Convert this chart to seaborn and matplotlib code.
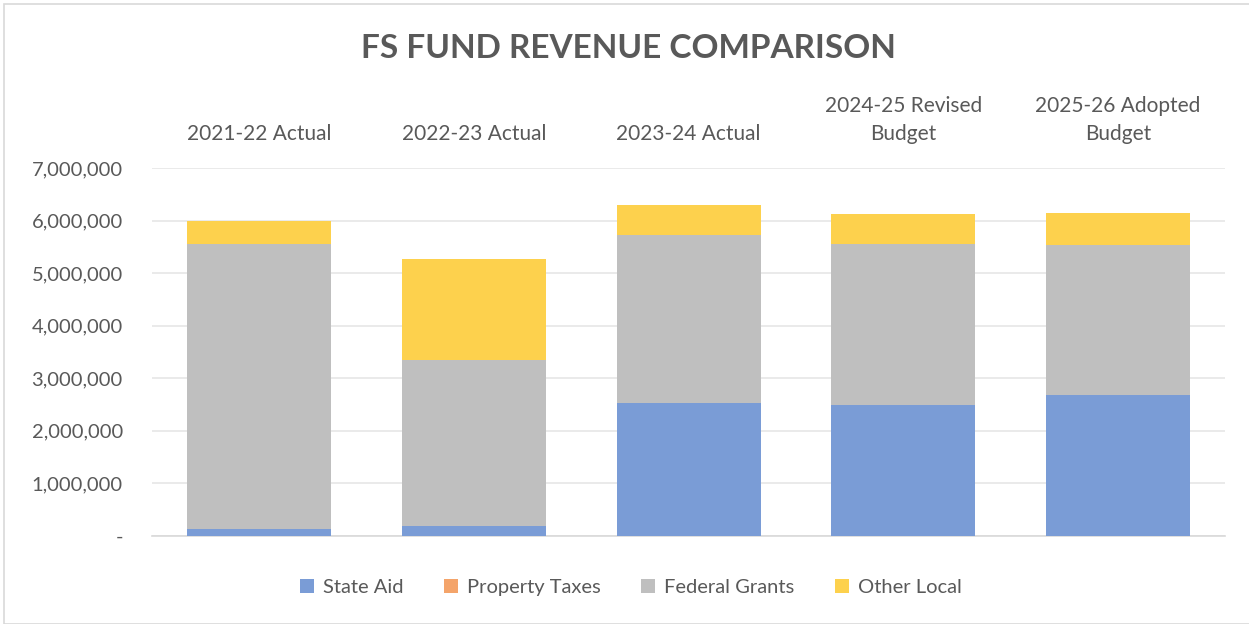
import pandas as pd
import matplotlib.pyplot as plt
import seaborn as sns
from matplotlib.patches import Patch, Rectangle
from matplotlib.ticker import FuncFormatter

# Chart values
years = ["2021-22 Actual", "2022-23 Actual", "2023-24 Actual",
         "2024-25 Revised\nBudget", "2025-26 Adopted\nBudget"]
state_aid = [130000, 200000, 2530000, 2500000, 2690000]
property_taxes = [0, 0, 0, 0, 0]
federal_grants = [5430000, 3140000, 3200000, 3050000, 2850000]
other_local = [440000, 1930000, 570000, 575000, 600000]

series_names = ["State Aid", "Property Taxes", "Federal Grants", "Other Local"]
colors = ["#7A9CD6", "#F4A46A", "#BFBFBF", "#FDD14D"]
text_color = "#595959"

df = pd.DataFrame({
    "Year": years,
    "State Aid": state_aid,
    "Property Taxes": property_taxes,
    "Federal Grants": federal_grants,
    "Other Local": other_local,
})

# cumulative heights so the stacks can be drawn back-to-front
cum = df[series_names].cumsum(axis=1)
cum["Year"] = df["Year"]

sns.set_theme(style="white")
plt.rcParams["font.family"] = ["Lato", "DejaVu Sans"]

fig = plt.figure(figsize=(12.49, 6.24), dpi=100)
ax = fig.add_axes([0.1217, 0.141, 0.8593, 0.5898])

for name, color in reversed(list(zip(series_names, colors))):
    sns.barplot(data=cum, x="Year", y=name, color=color, ax=ax,
                width=0.67, saturation=1, edgecolor="none", zorder=3)

ax.set_ylim(0, 7000000)
ax.set_yticks(range(0, 7000001, 1000000))
ax.yaxis.set_major_formatter(FuncFormatter(lambda v, p: "-" if v == 0 else f"{int(v):,}"))
ax.yaxis.grid(True, color="#E6E6E6", linewidth=1.2, zorder=0)
ax.set_axisbelow(True)

ax.xaxis.tick_top()
ax.set_xlabel("")
ax.set_ylabel("")
ax.tick_params(axis="x", length=0, pad=17, labelsize=15, labelcolor=text_color)
ax.tick_params(axis="y", length=0, pad=21, labelsize=14.5, labelcolor=text_color)
for lbl in ax.get_xticklabels():
    lbl.set_linespacing(1.55)
for lbl in ax.get_yticklabels():
    lbl.set_horizontalalignment("right")

for side in ["top", "left", "right"]:
    ax.spines[side].set_visible(False)
ax.spines["bottom"].set_color("#D9D9D9")
ax.spines["bottom"].set_linewidth(1.2)

fig.text(0.503, 0.923, "FS FUND REVENUE COMPARISON", ha="center", va="center",
         fontsize=24, fontweight="bold", color=text_color)

handles = [Patch(facecolor=c, edgecolor="none") for c in colors]
fig.legend(handles, series_names, loc="center", bbox_to_anchor=(0.505, 0.058),
           ncol=4, frameon=False, fontsize=14.5, handlelength=0.7, handleheight=0.7,
           handletextpad=0.45, columnspacing=2.0, labelcolor=text_color)

# light chart-area border
fig.patches.append(Rectangle((0.003, 0.0), 1.2, 0.993, transform=fig.transFigure,
                             fill=False, edgecolor="#D9D9D9", linewidth=1.2))

fig.savefig("out.png", dpi=100)
